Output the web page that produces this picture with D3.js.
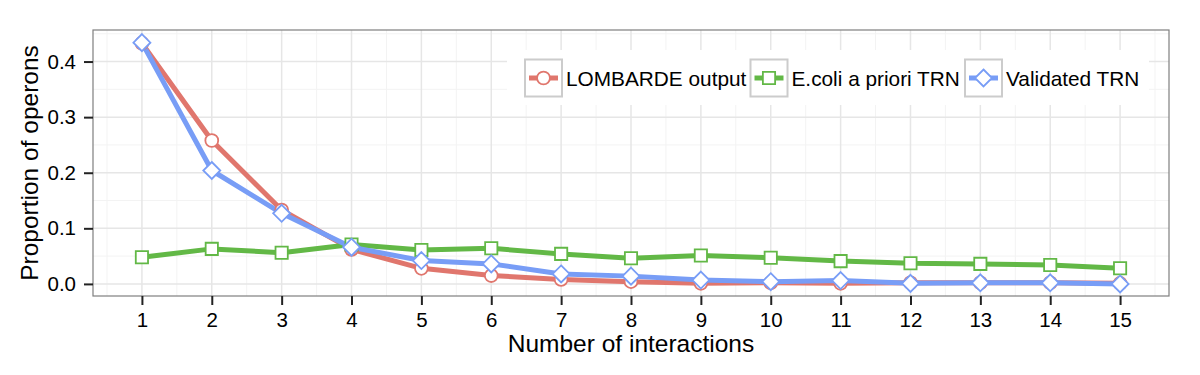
<!DOCTYPE html>
<html><head><meta charset="utf-8">
<script src="https://cdn.jsdelivr.net/npm/d3@7"></script>
<style>body{margin:0;background:#fff}svg{display:block}text{font-family:"Liberation Sans",Arial,Helvetica,sans-serif}</style>
</head><body><svg id="c" width="1200" height="375"></svg>
<script>
const interactions = [1,2,3,4,5,6,7,8,9,10,11,12,13,14,15];
const lombarde  = [0.433,0.258,0.133,0.062,0.028,0.015,0.008,0.004,0.001,0.002,0.001,0.002,0.002,0.002,0.001];
const ecoliTRN  = [0.048,0.063,0.056,0.071,0.061,0.064,0.054,0.046,0.051,0.047,0.041,0.037,0.036,0.034,0.028];
const validated = [0.434,0.204,0.127,0.066,0.042,0.036,0.018,0.014,0.007,0.004,0.006,0.001,0.002,0.002,0.000];
const seriesNames = ["LOMBARDE output","E.coli a priori TRN","Validated TRN"];
const yTicks = [0,0.1,0.2,0.3,0.4];

const colors = ["#E0766D","#62B846","#789DF6"];
const shapes = ["circle","square","diamond"];
const series = [lombarde, ecoliTRN, validated].map((v,i)=>({name:seriesNames[i], values:v, color:colors[i], shape:shapes[i]}));

const svg = d3.select("#c");
const L=93, R=1169, T=30, B=296;
const x = d3.scaleLinear().domain([0.3,15.7]).range([L,R]);
const y = d3.scaleLinear().domain([-0.02175,0.45675]).range([B,T]);

// grid
const g = svg.append("g");
const minorY = d3.range(0.05,0.46,0.1);
const minorX = d3.range(0.5,15.6,1);
g.selectAll(".my").data(minorY).enter().append("line")
  .attr("x1",L).attr("x2",R).attr("y1",d=>y(d)).attr("y2",d=>y(d))
  .attr("stroke","#f3f3f3").attr("stroke-width",1);
g.selectAll(".mx").data(minorX).enter().append("line")
  .attr("y1",T).attr("y2",B).attr("x1",d=>x(d)).attr("x2",d=>x(d))
  .attr("stroke","#f3f3f3").attr("stroke-width",1);
g.selectAll(".gy").data(yTicks).enter().append("line")
  .attr("x1",L).attr("x2",R).attr("y1",d=>y(d)).attr("y2",d=>y(d))
  .attr("stroke","#e6e6e6").attr("stroke-width",1.5);
g.selectAll(".gx").data(interactions).enter().append("line")
  .attr("y1",T).attr("y2",B).attr("x1",d=>x(d)).attr("x2",d=>x(d))
  .attr("stroke","#e6e6e6").attr("stroke-width",1.5);

// lines
const line = d3.line().x((d,i)=>x(interactions[i])).y(d=>y(d));
series.forEach(s=>{
  svg.append("path").attr("d",line(s.values)).attr("fill","none")
    .attr("stroke",s.color).attr("stroke-width",5).attr("stroke-linejoin","round");
});

function symbolPath(shape){
  if(shape==="circle") return d3.symbol(d3.symbolCircle, 130)();
  if(shape==="square") return d3.symbol(d3.symbolSquare, 150)();
  return "M0,-8.5L8.5,0L0,8.5L-8.5,0Z";
}
series.forEach(s=>{
  svg.append("g").selectAll("path").data(s.values).enter().append("path")
    .attr("d",symbolPath(s.shape))
    .attr("transform",(d,i)=>`translate(${x(interactions[i])},${y(d)})`)
    .attr("fill","#fff").attr("stroke",s.color).attr("stroke-width",1.8);
});

// border
svg.append("rect").attr("x",L).attr("y",T).attr("width",R-L).attr("height",B-T)
  .attr("fill","none").attr("stroke","#7f7f7f").attr("stroke-width",1.2);

// axes
const xAxis = d3.axisBottom(x).tickValues(interactions).tickSize(9).tickPadding(7).tickFormat(d3.format("d"));
const ax = svg.append("g").attr("transform",`translate(0,${B})`).call(xAxis);
const yAxis = d3.axisLeft(y).tickValues(yTicks).tickSize(9).tickPadding(8).tickFormat(d3.format(".1f"));
const ay = svg.append("g").attr("transform",`translate(${L},0)`).call(yAxis);
[ax,ay].forEach(a=>{
  a.select(".domain").remove();
  a.selectAll(".tick line").attr("stroke","#222").attr("stroke-width",2);
  a.selectAll(".tick text").attr("fill","#000").attr("font-size",20.5)
   .attr("font-family","'Liberation Sans',Arial,sans-serif");
});

svg.append("text").attr("x",(L+R)/2).attr("y",352).attr("text-anchor","middle")
  .attr("font-size",24.5).attr("fill","#000").text("Number of interactions");
svg.append("text").attr("transform",`translate(38,${(T+B)/2}) rotate(-90)`).attr("text-anchor","middle")
  .attr("font-size",24.5).attr("fill","#000").text("Proportion of operons");

// legend
const lg = svg.append("g");
lg.append("rect").attr("x",507).attr("y",50).attr("width",642).attr("height",55).attr("fill","#fff");
const keyX = [525,750.5,965];
series.forEach((s,i)=>{
  const kx = keyX[i], ky = 59.5;
  lg.append("rect").attr("x",kx).attr("y",ky).attr("width",37).attr("height",37)
    .attr("fill","#fff").attr("stroke","#cccccc").attr("stroke-width",2);
  lg.append("line").attr("x1",kx+4).attr("x2",kx+33).attr("y1",ky+18.5).attr("y2",ky+18.5)
    .attr("stroke",s.color).attr("stroke-width",5);
  lg.append("path").attr("d",symbolPath(s.shape)).attr("transform",`translate(${kx+18.5},${ky+18.5})`)
    .attr("fill","#fff").attr("stroke",s.color).attr("stroke-width",1.8);
  lg.append("text").attr("x",kx+41).attr("y",ky+26).attr("font-size",20.8).attr("fill","#000").text(s.name);
});
</script></body></html>
